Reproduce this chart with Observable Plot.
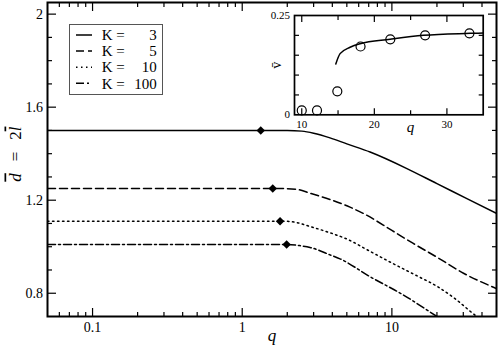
<!DOCTYPE html>
<html><head><meta charset="utf-8">
<script src="https://cdn.jsdelivr.net/npm/d3@7"></script>
<script src="https://cdn.jsdelivr.net/npm/@observablehq/plot@0.6"></script>
<style>body{margin:0;background:#fff} #wrap{position:relative;width:498px;height:349px}</style>
</head><body><div id="wrap"></div>
<script>
// ---- data ----
const K = [3, 5, 10, 100];
const dashes = [null, "8,4", "1.5,3.5", "8,3,2,3"];
const curveK3 = [[0.05,1.5],[2.0,1.5],[2.5,1.497],[3.0,1.488],[3.86,1.468],[5,1.442],[7.15,1.407],[12.6,1.336],[20,1.271],[31.7,1.207],[50,1.143]];
const curveK5 = [[0.05,1.25],[1.9,1.25],[2.3,1.247],[2.84,1.23],[3.86,1.203],[5.25,1.17],[6.45,1.143],[10,1.07],[13.9,1.014],[20,0.955],[30.1,0.886],[50,0.82]];
const curveK10 = [[0.05,1.11],[1.9,1.11],[2.3,1.104],[2.84,1.087],[3.86,1.06],[5,1.033],[7.15,0.98],[10,0.93],[15,0.872],[20,0.83],[26,0.78],[37,0.70],[40,0.685]];
const curveK100 = [[0.05,1.01],[2.0,1.01],[2.4,1.005],[2.84,0.997],[3.86,0.965],[4.5,0.948],[7.15,0.871],[11.9,0.793],[20,0.70],[22,0.683]];
const diamondQ = [1.33, 1.6, 1.79, 1.98];
const diamondD = [1.5, 1.25, 1.11, 1.01];
const xMajor = [0.1, 1, 10];
const xMinor = [0.06,0.07,0.08,0.09,0.2,0.3,0.4,0.5,0.6,0.7,0.8,0.9,2,3,4,5,6,7,8,9,20,30,40];
const yMajor = [0.8, 1.2, 1.6, 2];
const yMinor = [0.9,1.0,1.1,1.3,1.4,1.5,1.7,1.8,1.9];
// inset
const insetCurve = [[14.69,0.128],[15.28,0.154],[16.66,0.170],[18.04,0.179],[22.18,0.190],[26.77,0.200],[33.2,0.205],[35,0.206]];
const insetQ = [10, 12.1, 14.9, 18.1, 22.2, 27.0, 33.1];
const insetV = [0.011, 0.011, 0.059, 0.172, 0.19, 0.2, 0.205];
const insetXMajor = [10, 20, 30];
const insetXMinor = [15, 25];
const insetYLabels = [0, 0.25];
const insetYMinor = [0.05, 0.1, 0.15, 0.2];

const serif = "'Liberation Serif', 'Times New Roman', serif";
const curves = [curveK3, curveK5, curveK10, curveK100];
const blank = () => "";

const tickAxes = (fn, ticks, anchors, size) => anchors.map(a =>
  fn(ticks, {anchor: a, tickSize: -size, tickFormat: blank, label: null, strokeWidth: 1.2}));

const main = Plot.plot({
  width: 498, height: 349,
  marginLeft: 47, marginRight: 2, marginTop: 2, marginBottom: 33,
  style: {fontFamily: serif, fontSize: "14px", color: "black", background: "white"},
  x: {type: "log", domain: [0.05, 50], label: null},
  y: {domain: [0.7, 2.05], label: null},
  marks: [
    ...curves.map((c, i) => Plot.line(c, {x: d => d[0], y: d => d[1], stroke: "black", strokeWidth: 1.5,
      strokeDasharray: dashes[i] ?? undefined, curve: "monotone-x", clip: true})),
    Plot.dot(diamondQ.map((q, i) => ({q, d: diamondD[i]})), {x: "q", y: "d", symbol: "square", rotate: 45, r: 3.4, fill: "black", stroke: null}),
    ...tickAxes(Plot.axisX, xMajor, ["bottom", "top"], 8),
    ...tickAxes(Plot.axisX, xMinor, ["bottom", "top"], 4),
    ...tickAxes(Plot.axisY, yMajor, ["left", "right"], 9),
    ...tickAxes(Plot.axisY, yMinor, ["left", "right"], 5),
    Plot.axisX(xMajor, {anchor: "bottom", tickSize: 0, tickPadding: 6, tickFormat: d => String(d), label: null}),
    Plot.axisY(yMajor, {anchor: "left", tickSize: 0, tickPadding: 4.5, tickFormat: d => String(d), label: null}),
    Plot.frame({strokeWidth: 2}),
    Plot.text(["q"], {text: d => d, frameAnchor: "bottom", dy: 19, lineAnchor: "middle", textAnchor: "middle", fontSize: 17, fontStyle: "italic"})
  ]
});

// y-axis title with italic, overlined symbols
const yl = d3.select(main).append("text")
  .attr("text-anchor", "start")
  .attr("font-family", serif).attr("font-size", 17).attr("fill", "black");
yl.append("tspan").attr("font-style", "italic").style("text-decoration", "overline").text("d");
yl.append("tspan").text("\u2002\u2009=\u2002\u20092");
yl.append("tspan").attr("font-style", "italic").style("text-decoration", "overline").text("l");

// legend
const lg = d3.select(main).append("g").attr("font-family", serif).attr("font-size", 15).attr("text-anchor", "start");
lg.append("rect").attr("x", 69.5).attr("y", 24.5).attr("width", 93).attr("height", 70)
  .attr("fill", "white").attr("stroke", "#555").attr("stroke-width", 1);
K.forEach((k, i) => {
  const y = 35 + i * 16.1;
  lg.append("line").attr("x1", 76).attr("x2", 92).attr("y1", y).attr("y2", y)
    .attr("stroke", "black").attr("stroke-width", 1.5).attr("stroke-dasharray", dashes[i]);
  lg.append("text").attr("x", 101.7).attr("y", y).attr("dy", "0.35em").attr("text-anchor", "start").text("K =");
  lg.append("text").attr("x", 156.7).attr("y", y).attr("dy", "0.35em").attr("text-anchor", "end").text(k);
});

const inset = Plot.plot({
  width: 236, height: 135,
  marginLeft: 34, marginRight: 13.3, marginTop: 15, marginBottom: 20.7,
  style: {fontFamily: serif, fontSize: "11px", color: "black", background: "transparent", overflow: "visible"},
  x: {domain: [9, 35], label: null},
  y: {domain: [0, 0.25], label: null},
  marks: [
    Plot.frame({fill: "white", stroke: null}),
    ...tickAxes(Plot.axisX, insetXMajor, ["bottom", "top"], 6),
    ...tickAxes(Plot.axisX, insetXMinor, ["bottom", "top"], 4),
    ...tickAxes(Plot.axisY, insetYMinor, ["left", "right"], 5),
    Plot.axisX(insetXMajor, {anchor: "bottom", tickSize: 0, tickPadding: 5, tickFormat: d => String(d), label: null}),
    Plot.axisY(insetYLabels, {anchor: "left", tickSize: 0, tickPadding: 4.5, tickFormat: d => String(d), label: null}),
    Plot.line(insetCurve, {x: d => d[0], y: d => d[1], stroke: "black", strokeWidth: 1.5, curve: "monotone-x"}),
    Plot.dot(insetQ.map((q, i) => ({q, v: insetV[i]})), {x: "q", y: "v", r: 4.5, stroke: "black", strokeWidth: 1.2, fill: "none"}),
    Plot.frame({strokeWidth: 1.7}),
    Plot.text(["v\u0304"], {text: d => d, frameAnchor: "left", dx: -18, rotate: -90, textAnchor: "middle", lineAnchor: "middle", fontSize: 14}),
    Plot.text(["q"], {text: d => d, frameAnchor: "bottom", dx: 21.6, dy: 12.7, textAnchor: "middle", lineAnchor: "middle", fontSize: 15, fontStyle: "italic"})
  ]
});
inset.style.position = "absolute";
inset.style.left = "260px";
inset.style.top = "0px";

const wrap = document.getElementById("wrap");
wrap.appendChild(main);
wrap.appendChild(inset);

// centre the rotated y title on (15, 154) using its measured box
const bb = yl.node().getBBox();
const cx = bb.x + bb.width / 2, cy = bb.y + bb.height / 2;
yl.attr("transform", `translate(${15 - cy},${154 + cx}) rotate(-90)`);
</script></body></html>
